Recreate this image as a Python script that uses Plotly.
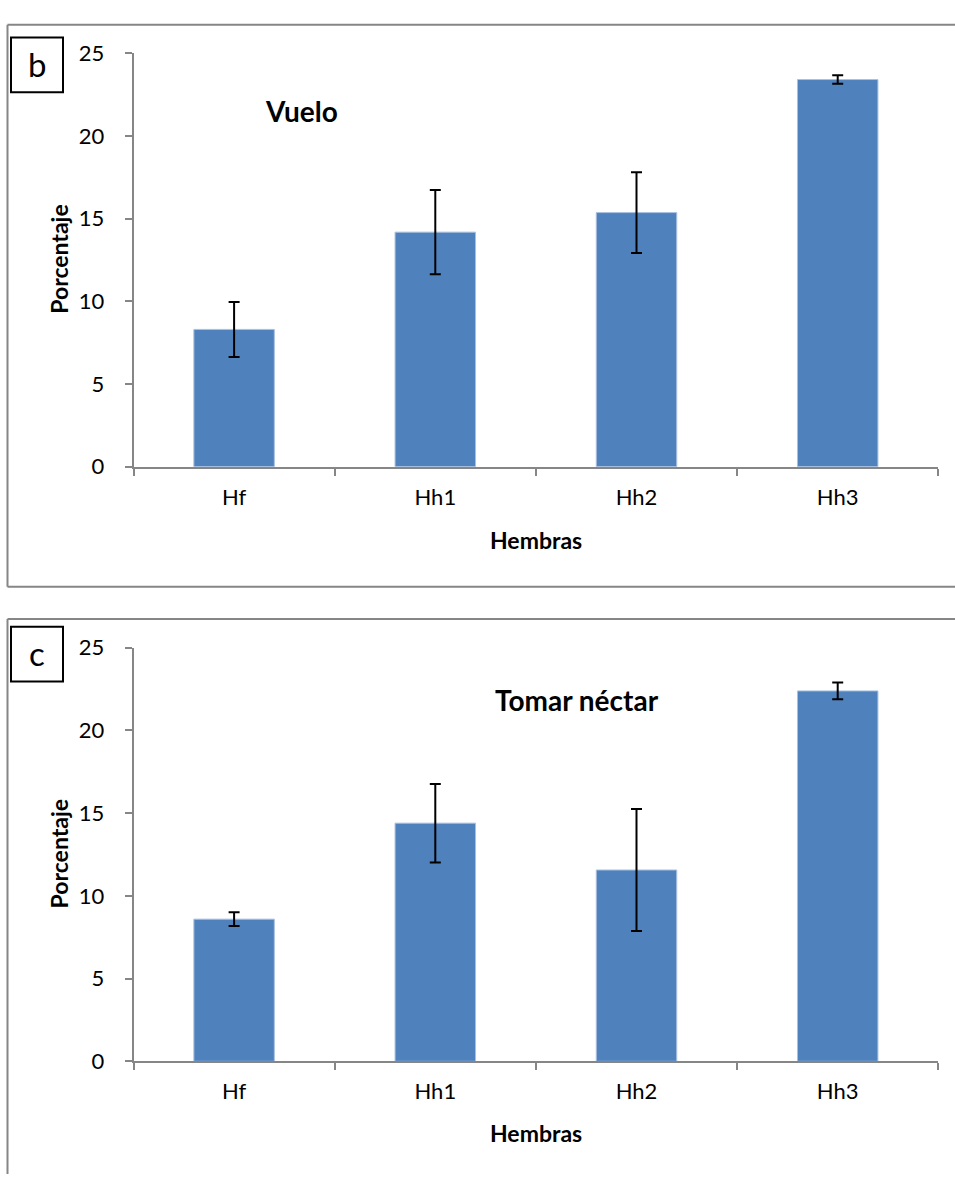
import plotly.graph_objects as go

W, H = 955, 1187

# Datos
categorias = ["Hf", "Hh1", "Hh2", "Hh3"]
vuelo = [8.30, 14.18, 15.36, 23.40]
vuelo_err = [1.66, 2.54, 2.44, 0.26]
nectar = [8.59, 14.39, 11.56, 22.38]
nectar_err = [0.41, 2.37, 3.69, 0.51]
y_ticks = [0, 5, 10, 15, 20, 25]

BAR = "#4F81BD"
AXIS = "#868686"
FONT = "Lato"


def px_x(x):
    return x / W


def px_y(y):
    return 1 - y / H


fig = go.Figure()

fig.add_trace(go.Bar(
    x=categorias, y=vuelo, xaxis="x", yaxis="y",
    marker=dict(color=BAR, line=dict(color="#A9C1E0", width=1)),
    error_y=dict(type="data", array=vuelo_err, visible=True,
                 color="black", thickness=2, width=5.5),
    showlegend=False,
))
fig.add_trace(go.Bar(
    x=categorias, y=nectar, xaxis="x2", yaxis="y2",
    marker=dict(color=BAR, line=dict(color="#A9C1E0", width=1)),
    error_y=dict(type="data", array=nectar_err, visible=True,
                 color="black", thickness=2, width=5.5),
    showlegend=False,
))

x_dom = [px_x(133.5), px_x(938.3)]
xaxis_common = dict(
    domain=x_dom, type="category", range=[-0.5, 3.5],
    showline=True, linecolor=AXIS, linewidth=1.5,
    ticks="outside", tickson="boundaries", ticklen=7, tickcolor=AXIS,
    tickwidth=1.5, ticklabelstandoff=10,
    tickfont=dict(family=FONT, size=22, color="black"),
    showgrid=False, zeroline=False, fixedrange=True,
)
yaxis_common = dict(
    range=[0, 25], tickvals=y_ticks,
    showline=True, linecolor=AXIS, linewidth=1.5,
    ticks="outside", ticklen=7, tickcolor=AXIS, tickwidth=1.5,
    ticklabelstandoff=16,
    tickfont=dict(family=FONT, size=22, color="black"),
    showgrid=False, zeroline=False, fixedrange=True,
)

fig.update_layout(
    width=W, height=H,
    margin=dict(l=0, r=0, t=0, b=0),
    paper_bgcolor="white", plot_bgcolor="white",
    bargap=0.6,
    xaxis=dict(xaxis_common, anchor="y"),
    yaxis=dict(yaxis_common, anchor="x",
               domain=[px_y(463.3), px_y(40.0)]),
    xaxis2=dict(xaxis_common, anchor="y2"),
    yaxis2=dict(yaxis_common, anchor="x2",
                domain=[px_y(1071.7), px_y(648.3)]),
)

shapes = []
annotations = []


def frame_line(x0, y0, x1, y1, color=AXIS, width=2):
    return dict(type="line", xref="paper", yref="paper",
                x0=px_x(x0), y0=px_y(y0), x1=px_x(x1), y1=px_y(y1),
                line=dict(color=color, width=width), layer="below")


# Marco del panel b (borde derecho fuera de la página)
shapes += [
    frame_line(7.5, 11, W, 11),
    frame_line(7.5, 11, 7.5, 586),
    frame_line(7.5, 586, W, 586),
]
# Marco del panel c (bordes derecho e inferior fuera de la página)
shapes += [
    frame_line(7.5, 619, W, 619),
    frame_line(7.5, 619, 7.5, H),
]

# Recuadros de la letra de cada panel
for box_top in [24, 627]:
    shapes.append(dict(
        type="rect", xref="paper", yref="paper",
        x0=px_x(11), x1=px_x(63), y0=px_y(box_top + 56), y1=px_y(box_top),
        line=dict(color="black", width=2), fillcolor="white",
    ))

panels = [
    ("b", 24, "Vuelo", 301, 99, 251.5, 538),
    ("c", 627, "Tomar néctar", 577, 702, 860, 1145),
]
for letra, box_top, titulo, tx, ty, py, hy in panels:
    annotations.append(dict(
        text=letra, x=px_x(37), y=px_y(box_top + 27), xref="paper",
        yref="paper", showarrow=False, xanchor="center", yanchor="middle",
        font=dict(family=FONT, size=33, color="black"),
    ))
    annotations.append(dict(
        text=f"<b>{titulo}</b>", x=px_x(tx), y=px_y(ty), xref="paper",
        yref="paper", showarrow=False, xanchor="center", yanchor="middle",
        font=dict(family=FONT, size=28, color="black"),
    ))
    annotations.append(dict(
        text="<b>Porcentaje</b>", x=px_x(59), y=px_y(py), xref="paper",
        yref="paper", showarrow=False, xanchor="center", yanchor="middle",
        textangle=-90, font=dict(family=FONT, size=23, color="black"),
    ))
    annotations.append(dict(
        text="<b>Hembras</b>", x=px_x(536), y=px_y(hy), xref="paper",
        yref="paper", showarrow=False, xanchor="center", yanchor="middle",
        font=dict(family=FONT, size=23, color="black"),
    ))

fig.update_layout(shapes=shapes, annotations=annotations)

fig.write_html("out.html")
